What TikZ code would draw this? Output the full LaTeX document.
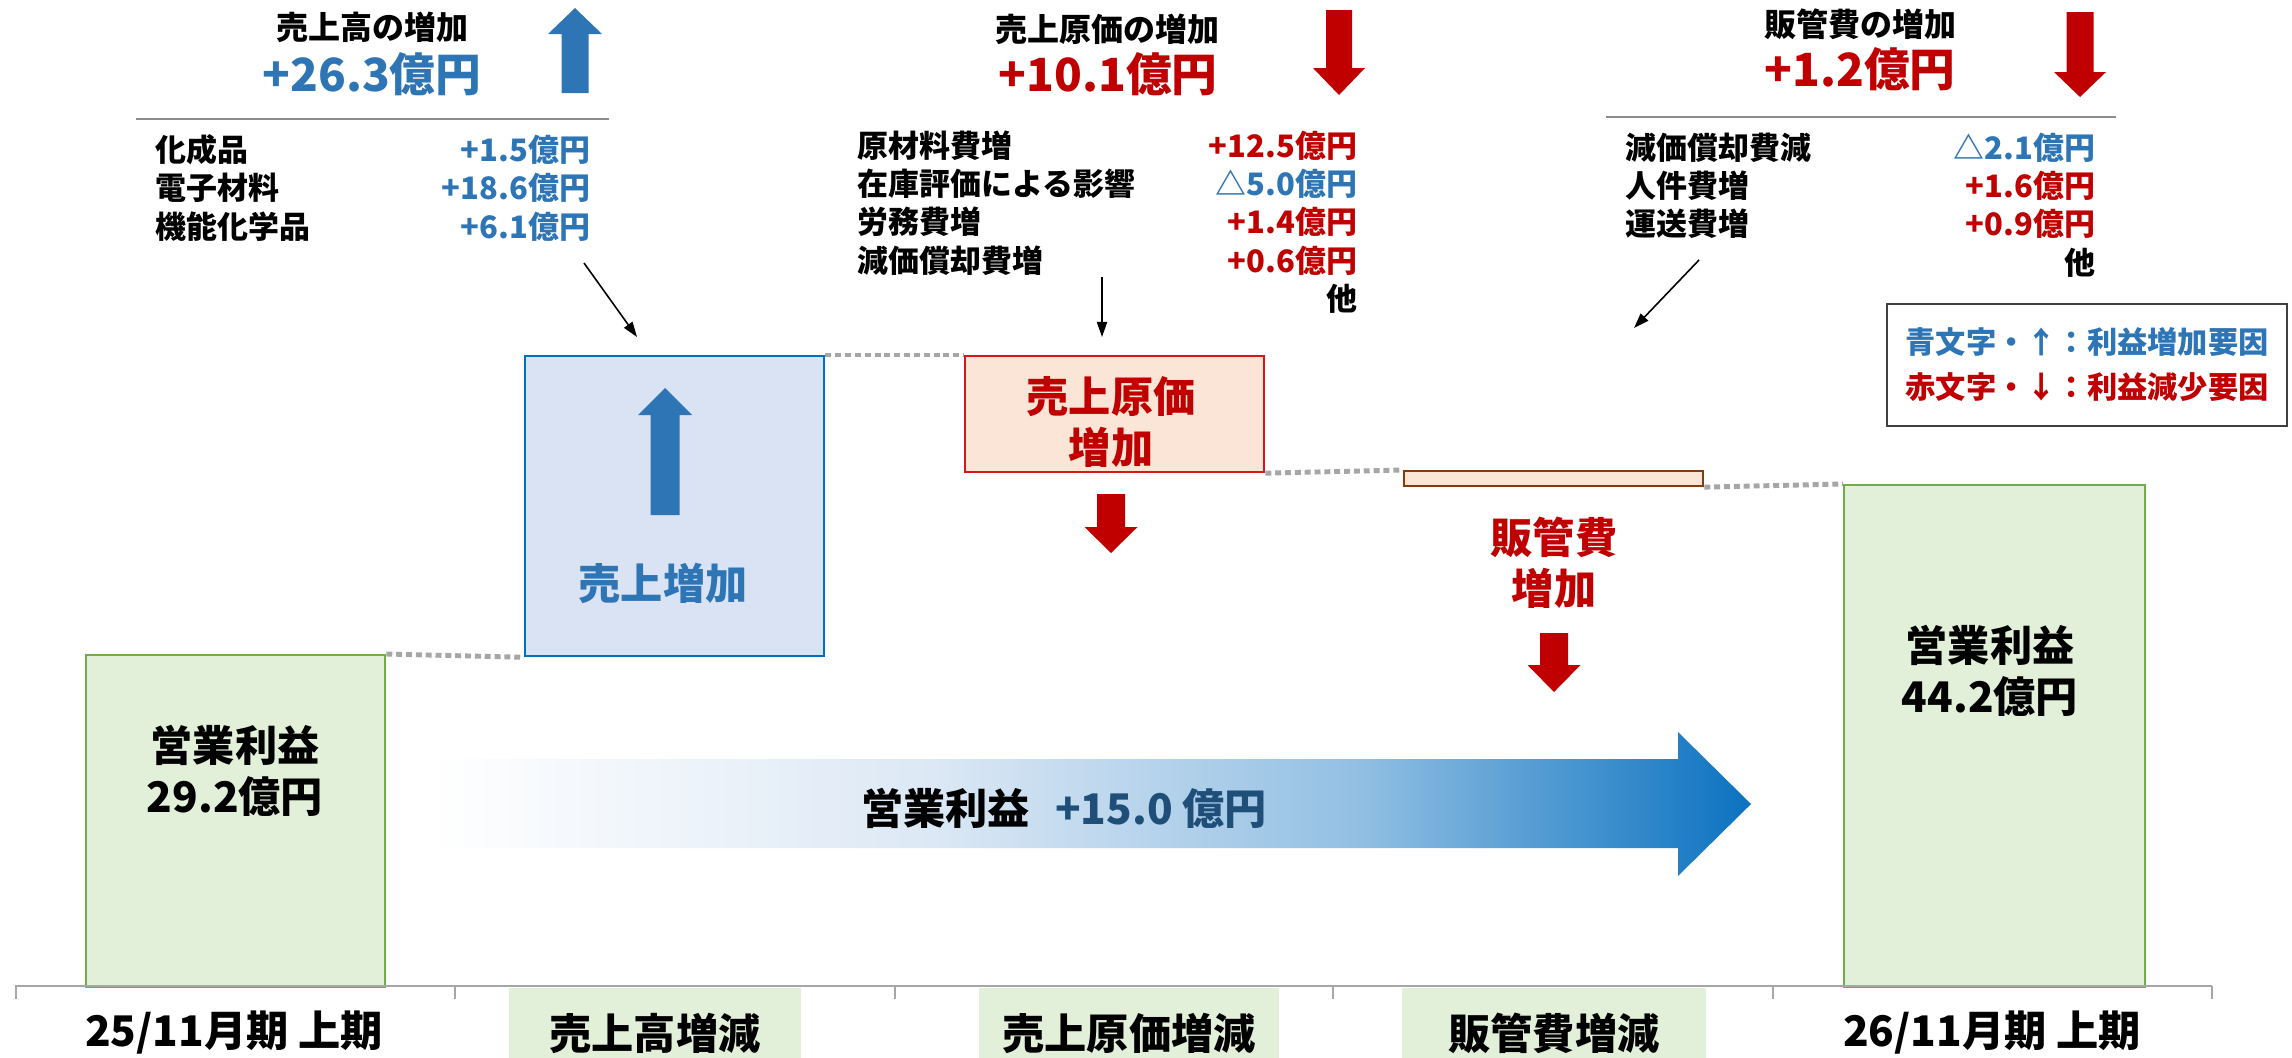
\documentclass[tikz,border=0pt]{standalone}
\usepackage{fontspec}
\setmainfont{Noto Sans CJK JP}
\usetikzlibrary{arrows.meta}
\definecolor{upblue}{HTML}{2E75B6}
\definecolor{downred}{HTML}{C00000}
\definecolor{edgered}{HTML}{D9141B}
\definecolor{barblue}{HTML}{DAE3F3}
\definecolor{edgeblue}{HTML}{0070C0}
\definecolor{barred}{HTML}{FBE5D6}
\definecolor{edgebrown}{HTML}{843C0C}
\definecolor{bargreen}{HTML}{E2F0D9}
\definecolor{edgegreen}{HTML}{70AD47}
\definecolor{dotgray}{HTML}{A6A6A6}
\definecolor{rulegray}{HTML}{8C8C8C}
\definecolor{axisgray}{HTML}{A6A6A6}
\definecolor{legendgray}{HTML}{404040}
\definecolor{navytext}{HTML}{1F4E79}
\definecolor{fadeA}{HTML}{DCE8F5}
\definecolor{fadeB}{HTML}{93C0E3}
\definecolor{fadeC}{HTML}{0B72C0}
\pgfdeclarehorizontalshading{profitfade}{100bp}{color(0bp)=(white); color(25bp)=(white); color(44bp)=(fadeA); color(60bp)=(fadeB); color(75bp)=(fadeC); color(100bp)=(fadeC)}
\begin{document}
\begin{tikzpicture}[x=0.01cm,y=-0.01cm,
  bar/.style={draw,line width=0.6pt,anchor=north west},
  linkdot/.style={dotgray,line width=1.4pt,dash pattern=on 1.7pt off 1.1pt},
  thinarrow/.style={-{Triangle[length=4.3pt,width=2.9pt]},line width=0.45pt},
  headtext/.style={font=\fontsize{9.1}{11}\selectfont\bfseries},
  bigtext/.style={font=\fontsize{13}{15}\selectfont\bfseries},
  rowtext/.style={font=\fontsize{8.8}{10.9}\selectfont\bfseries,anchor=west},
  bartext/.style={font=\fontsize{12}{14.6}\selectfont\bfseries,align=center},
  axistext/.style={font=\fontsize{12}{14}\selectfont\bfseries}]
\tikzstyle{every node}+=[inner sep=0pt]
\useasboundingbox (0,0) rectangle (2292,1057);
\node[headtext] (salestitle) at (372,27) {売上高の増加};
\node[bigtext,upblue] (salesvalue) at (372,74) {+26.3億円};
\fill[upblue] (575,8) -- (602,34) -- (588.5,34) -- (588.5,93) -- (561.5,93) -- (561.5,34) -- (548,34) -- cycle;
\draw[rulegray,line width=0.6pt] (136,119) -- (609,119);
\node[rowtext] (salesrows) at (155,192) {\begin{tabular*}{4.34cm}{@{}l@{\extracolsep{\fill}}r@{}}
化成品 & \textcolor{upblue}{+1.5億円}\\
電子材料 & \textcolor{upblue}{+18.6億円}\\
機能化学品 & \textcolor{upblue}{+6.1億円}
\end{tabular*}};
\node[headtext] (cogstitle) at (1107,29) {売上原価の増加};
\node[bigtext,downred] (cogsvalue) at (1108,74) {+10.1億円};
\fill[downred] (1339,95) -- (1365,68) -- (1352,68) -- (1352,10) -- (1326,10) -- (1326,68) -- (1313,68) -- cycle;
\node[rowtext] (cogsrows) at (857,226) {\begin{tabular*}{4.99cm}{@{}l@{\extracolsep{\fill}}r@{}}
原材料費増 & \textcolor{downred}{+12.5億円}\\
在庫評価による影響 & \textcolor{upblue}{△5.0億円}\\
労務費増 & \textcolor{downred}{+1.4億円}\\
減価償却費増 & \textcolor{downred}{+0.6億円}\\
 & 他
\end{tabular*}};
\node[headtext] (sgatitle) at (1860,24) {販管費の増加};
\node[bigtext,downred] (sgavalue) at (1860,69) {+1.2億円};
\fill[downred] (2080,97) -- (2106,72) -- (2093.5,72) -- (2093.5,12) -- (2066.5,12) -- (2066.5,72) -- (2054,72) -- cycle;
\draw[rulegray,line width=0.6pt] (1606,117) -- (2116,117);
\node[rowtext] (sgarows) at (1625,209) {\begin{tabular*}{4.69cm}{@{}l@{\extracolsep{\fill}}r@{}}
減価償却費減 & \textcolor{upblue}{△2.1億円}\\
人件費増 & \textcolor{downred}{+1.6億円}\\
運送費増 & \textcolor{downred}{+0.9億円}\\
 & 他
\end{tabular*}};
\node[draw=legendgray,line width=0.6pt,minimum width=4cm,minimum height=1.22cm,align=left,font=\fontsize{8.6}{12.8}\selectfont\bfseries] (legend) at (2087,365) {\textcolor{upblue}{青文字・↑：利益増加要因}\\\textcolor{downred}{赤文字・↓：利益減少要因}};
\coordinate (p1) at (584,263);
\coordinate (q1) at (637,337);
\coordinate (p2) at (1102,277);
\coordinate (q2) at (1102,337);
\coordinate (p3) at (1699,260);
\coordinate (q3) at (1634,328);
\draw[thinarrow] (p1) -- (q1);
\draw[thinarrow] (p2) -- (q2);
\draw[thinarrow] (p3) -- (q3);
\node[bar,fill=bargreen,draw=edgegreen,minimum width=2.99cm,minimum height=3.32cm] (base25) at (85,654) {};
\node[bar,fill=barblue,draw=edgeblue,minimum width=2.99cm,minimum height=3cm] (sales) at (524,355) {};
\node[bar,fill=barred,draw=edgered,minimum width=2.99cm,minimum height=1.16cm] (cogs) at (964,355) {};
\node[bar,fill=barred,draw=edgebrown,minimum width=2.99cm,minimum height=0.15cm] (sga) at (1403,470) {};
\node[bar,fill=bargreen,draw=edgegreen,minimum width=3.01cm,minimum height=5.02cm] (base26) at (1843,484) {};
\draw[linkdot] (base25.north east) -- (sales.south west);
\draw[linkdot] (sales.north east) -- (cogs.north west);
\draw[linkdot] (cogs.south east) -- (sga.north west);
\draw[linkdot] (sga.south east) -- (base26.north west);
\node[bartext] (base25text) at (235,771) {営業利益\\29.2億円};
\node[bartext] (base26text) at (1990,671) {営業利益\\44.2億円};
\fill[upblue] (665,388) -- (692,415) -- (679.5,415) -- (679.5,515) -- (650.5,515) -- (650.5,415) -- (638,415) -- cycle;
\node[bartext,upblue] (salestext) at (663,583) {売上増加};
\node[bartext,downred] (cogstext) at (1111,422) {売上原価\\増加};
\fill[downred] (1111,553) -- (1137.5,527) -- (1125,527) -- (1125,494) -- (1097,494) -- (1097,527) -- (1084.5,527) -- cycle;
\node[bartext,downred] (sgatext) at (1554,563) {販管費\\増加};
\fill[downred] (1554,692) -- (1580.5,665) -- (1568,665) -- (1568,633) -- (1540,633) -- (1540,665) -- (1527.5,665) -- cycle;
\shade[shading=profitfade] (430,759) -- (1678,759) -- (1678,732) -- (1751,804) -- (1678,876) -- (1678,848) -- (430,848) -- cycle;
\node[bartext] (gain) at (1064,808) {営業利益\hspace{0.6em}\textcolor{navytext}{+15.0 億円}};
\node[fill=bargreen,minimum width=2.92cm,minimum height=0.9cm,axistext] (salesdiff) at (655,1033) {売上高増減};
\node[fill=bargreen,minimum width=2.99cm,minimum height=0.9cm,axistext] (cogsdiff) at (1129,1033) {売上原価増減};
\node[fill=bargreen,minimum width=3.03cm,minimum height=0.9cm,axistext] (sgadiff) at (1554,1033) {販管費増減};
\node[axistext] (prev) at (234,1033) {25/11月期 上期};
\node[axistext] (curr) at (1992,1033) {26/11月期 上期};
\draw[axisgray,line width=0.8pt] (15,986) -- (2212,986);
\draw[axisgray,line width=0.5pt] (16,986) -- (16,999);
\draw[axisgray,line width=0.5pt] (455,986) -- (455,999);
\draw[axisgray,line width=0.5pt] (895,986) -- (895,999);
\draw[axisgray,line width=0.5pt] (1333,986) -- (1333,999);
\draw[axisgray,line width=0.5pt] (1773,986) -- (1773,999);
\draw[axisgray,line width=0.5pt] (2212,986) -- (2212,999);
\end{tikzpicture}
\end{document}
